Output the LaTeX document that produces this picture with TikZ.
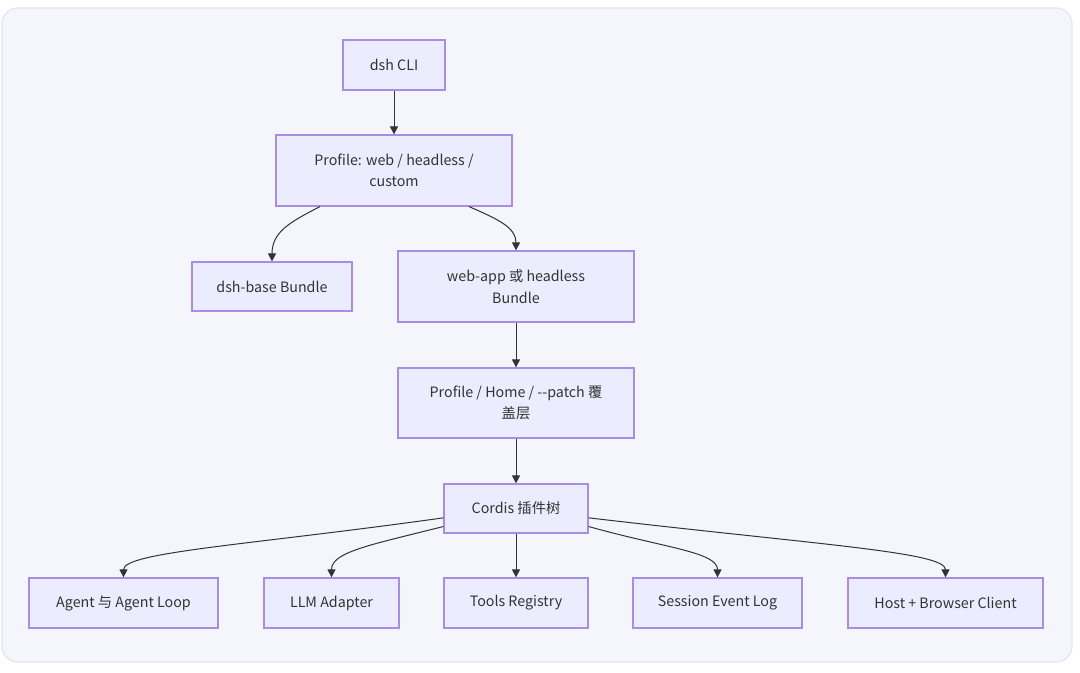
\documentclass[tikz,border=0pt]{standalone}
\usepackage{fontspec}
\setmainfont{Noto Sans CJK SC}
\usetikzlibrary{arrows.meta}
\definecolor{nodefill}{HTML}{ECECFF}
\definecolor{nodeborder}{HTML}{A98DE4}
\definecolor{edge}{HTML}{333333}
\definecolor{panelfill}{HTML}{F5F6FC}
\definecolor{panelborder}{HTML}{E2E5F2}
\tikzset{
  box/.style={draw=nodeborder, fill=nodefill, line width=0.9pt, text=edge, font=\fontsize{10.7pt}{16pt}\selectfont, align=center, inner sep=0pt},
  conn/.style={draw=edge, line width=0.75pt, -{Triangle[length=6pt,width=6pt]}},
}
\begin{document}
\begin{tikzpicture}[x=0.75pt,y=-0.75pt]
\useasboundingbox (0,0) rectangle (1080,673);
\fill[white] (0,0) rectangle (1080,673);
\draw[panelborder, fill=panelfill, line width=0.9pt, rounded corners=12pt] (2,8) rectangle (1072,662);

\node[box, minimum width=76.5pt, minimum height=37.5pt] (cli) at (394,65) {dsh CLI};
\node[box, minimum width=177pt, minimum height=53.25pt] (profile) at (394,170.5) {Profile: web / headless /\\custom};
\node[box, minimum width=120pt, minimum height=36.75pt] (base) at (272,286.5) {dsh-base Bundle};
\node[box, minimum width=177pt, minimum height=53.25pt] (webapp) at (516,286.5) {web-app 或 headless\\Bundle};
\node[box, minimum width=177pt, minimum height=52.5pt] (overlay) at (516,403) {Profile / Home / -{}-patch 覆\\盖层};
\node[box, minimum width=108pt, minimum height=36.75pt] (cordis) at (516,508.5) {Cordis 插件树};
\node[box, minimum width=141.75pt, minimum height=37.5pt] (agent) at (123.5,603) {Agent 与 Agent Loop};
\node[box, minimum width=101.25pt, minimum height=37.5pt] (llm) at (331.5,603) {LLM Adapter};
\node[box, minimum width=108pt, minimum height=37.5pt] (tools) at (516,603) {Tools Registry};
\node[box, minimum width=126.75pt, minimum height=37.5pt] (session) at (717.5,603) {Session Event Log};
\node[box, minimum width=146.25pt, minimum height=37.5pt] (host) at (945.5,603) {Host + Browser Client};

\draw[conn] (cli) -- (profile);
\draw[conn] ([xshift=-55.5pt]profile.south) .. controls (290,222) and (272,232) .. (base.north);
\draw[conn] ([xshift=56.25pt]profile.south) .. controls (500,220) and (516,228) .. (webapp.north);
\draw[conn] (webapp) -- (overlay);
\draw[conn] (overlay) -- (cordis);
\draw[conn] ([yshift=-7pt]cordis.west) .. controls (250,545) and (123.5,552) .. (agent.north);
\draw[conn] ([yshift=-13.5pt]cordis.west) .. controls (370,545) and (331.5,552) .. (llm.north);
\draw[conn] (cordis) -- (tools);
\draw[conn] ([yshift=-13.5pt]cordis.east) .. controls (665,548) and (717.5,552) .. (session.north);
\draw[conn] ([yshift=-7pt]cordis.east) .. controls (820,545) and (945.5,552) .. (host.north);
\end{tikzpicture}
\end{document}
